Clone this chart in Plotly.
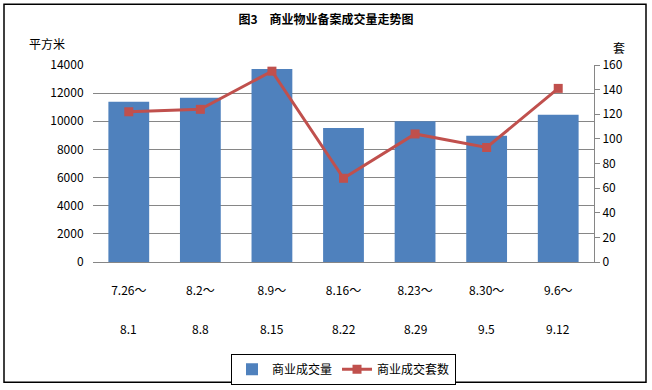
import plotly.graph_objects as go

categories = ["7.26～8.1", "8.2～8.8", "8.9～8.15", "8.16～8.22", "8.23～8.29", "8.30～9.5", "9.6～9.12"]
label_top = ["7.26～", "8.2～", "8.9～", "8.16～", "8.23～", "8.30～", "9.6～"]
label_bottom = ["8.1", "8.8", "8.15", "8.22", "8.29", "9.5", "9.12"]
area_values = [11380, 11680, 13720, 9530, 10010, 8970, 10460]
unit_values = [122, 124, 155, 68, 104, 93, 141]

FONT = "Noto Sans CJK SC, DejaVu Sans, sans-serif"
GRID = "#868686"

L, R, T, B = 93, 594, 65, 262.5
PW, PH = R - L, B - T


def px(x):
    return (x - L) / PW


def py(y):
    return (B - y) / PH


fig = go.Figure()
fig.add_trace(go.Bar(
    x=categories, y=area_values, name="商业成交量",
    marker=dict(color="#4F81BD", line=dict(width=0)),
    yaxis="y",
))
fig.add_trace(go.Scatter(
    x=categories, y=unit_values, name="商业成交套数",
    mode="lines+markers",
    line=dict(color="#C0504D", width=3),
    marker=dict(symbol="square", size=9, color="#C0504D"),
    yaxis="y2",
))

annotations = []
for c, b in zip(categories, label_bottom):
    annotations.append(dict(
        x=c, xref="x", y=py(329), yref="paper", text=b, showarrow=False,
        font=dict(family=FONT, size=12, color="#000000"), yanchor="middle",
    ))
annotations.append(dict(
    x=px(27), xref="paper", y=py(43), yref="paper", text="平方米", showarrow=False,
    xanchor="left", yanchor="middle", font=dict(family=FONT, size=12, color="#000000"),
))
annotations.append(dict(
    x=px(619), xref="paper", y=py(47), yref="paper", text="套", showarrow=False,
    xanchor="center", yanchor="middle", font=dict(family=FONT, size=12, color="#000000"),
))

fig.update_layout(
    width=652, height=390,
    margin=dict(l=L, r=652 - R, t=T, b=390 - B, autoexpand=False),
    paper_bgcolor="white", plot_bgcolor="white",
    title=dict(text="<b>图3　商业物业备案成交量走势图</b>", x=0.5, xanchor="center",
               y=1 - 20 / 390, yanchor="middle",
               font=dict(family=FONT, size=12, color="#000000")),
    bargap=0.43,
    showlegend=True,
    legend=dict(orientation="h", x=0.5, xanchor="center", y=py(370), yanchor="middle",
                bordercolor="#000000", borderwidth=1,
                font=dict(family=FONT, size=12, color="#000000"),
                tracegroupgap=0),
    xaxis=dict(
        tickmode="array", tickvals=categories, ticktext=label_top,
        showline=True, linecolor=GRID, linewidth=1, ticks="",
        ticklabelstandoff=18,
        tickfont=dict(family=FONT, size=12, color="#000000"),
        showgrid=False,
    ),
    yaxis=dict(
        range=[0, 14000], dtick=2000, tickformat="d",
        showgrid=True, gridcolor=GRID, gridwidth=1,
        showline=False, ticks="outside", ticklen=6, tickcolor="rgba(0,0,0,0)",
        tickfont=dict(family=FONT, size=12, color="#000000"),
        zeroline=False,
    ),
    yaxis2=dict(
        range=[0, 160], dtick=20, overlaying="y", side="right",
        showgrid=False, showline=True, linecolor=GRID, linewidth=1,
        ticks="outside", ticklen=5, tickcolor=GRID,
        tickfont=dict(family=FONT, size=12, color="#000000"),
        zeroline=False,
    ),
    annotations=annotations,
    shapes=[dict(type="rect", xref="paper", yref="paper",
                 x0=px(4), x1=px(646), y0=py(383), y1=py(4),
                 line=dict(color="#000000", width=1.5), layer="below")],
)

fig.write_html("out.html", config={"displayModeBar": False},
               post_script="document.body.style.margin='0';")
